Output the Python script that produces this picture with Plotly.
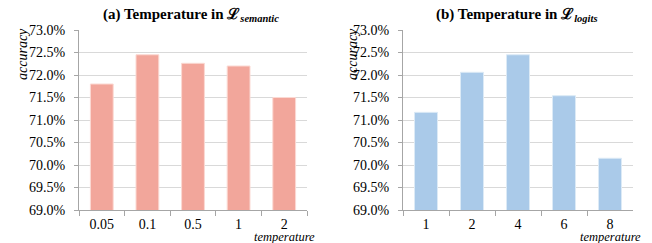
import plotly.graph_objects as go

cats_a = ["0.05", "0.1", "0.5", "1", "2"]
vals_a = [71.80, 72.45, 72.26, 72.20, 71.50]
cats_b = ["1", "2", "4", "6", "8"]
vals_b = [71.17, 72.06, 72.45, 71.54, 70.15]
yticks = [69.0, 69.5, 70.0, 70.5, 71.0, 71.5, 72.0, 72.5, 73.0]
ytick_text = [f"{v:.1f}%" for v in yticks]

W, H = 652, 243
font_family = "Liberation Serif"

fig = go.Figure()
fig.add_trace(go.Bar(x=cats_a, y=vals_a, xaxis="x", yaxis="y",
                     marker=dict(color="#F2A69B", line=dict(color="#FBD9D3", width=1)),
                     showlegend=False, hoverinfo="skip"))
fig.add_trace(go.Bar(x=cats_b, y=vals_b, xaxis="x2", yaxis="y2",
                     marker=dict(color="#AACAE9", line=dict(color="#DCEAF6", width=1)),
                     showlegend=False, hoverinfo="skip"))

def px_x(v):
    return v / W

def px_y(v):
    return 1 - v / H

axis_common = dict(showline=True, linecolor="#A6A6A6", linewidth=1,
                   ticks="outside", tickcolor="#A6A6A6", ticklen=5,
                   automargin=False,
                   tickfont=dict(family=font_family, size=14, color="#000"))
xaxis_common = dict(axis_common, type="category", showgrid=False,
                    tickson="boundaries", ticklabelstandoff=1)
yaxis_common = dict(axis_common, range=[69.0, 73.0], tickvals=yticks,
                    ticktext=ytick_text, showgrid=True, gridcolor="#D9D9D9",
                    gridwidth=1, ticklen=4, ticklabelstandoff=6, zeroline=False)

fig.update_layout(
    template="none",
    width=W, height=H,
    margin=dict(l=0, r=0, t=0, b=0, pad=0),
    paper_bgcolor="white", plot_bgcolor="white",
    bargap=0.5,
    font=dict(family=font_family, color="#000"),
    xaxis=dict(xaxis_common, domain=[px_x(79), px_x(307)], anchor="y"),
    yaxis=dict(yaxis_common, domain=[px_y(210), px_y(30)], anchor="x"),
    xaxis2=dict(xaxis_common, domain=[px_x(403), px_x(633)], anchor="y2"),
    yaxis2=dict(yaxis_common, domain=[px_y(210), px_y(30)], anchor="x2"),
)

annos = [
    dict(text="<b>(a) Temperature in ℒ<sub><i>semantic</i></sub></b>", x=px_x(191), y=px_y(15), size=15),
    dict(text="<b>(b) Temperature in ℒ<sub><i>logits</i></sub></b>", x=px_x(517), y=px_y(15), size=15),
    dict(text="<i>accuracy</i>", x=px_x(22), y=px_y(54), size=14, angle=-90),
    dict(text="<i>accuracy</i>", x=px_x(352), y=px_y(54), size=14, angle=-90),
    dict(text="<i>temperature</i>", x=px_x(284), y=px_y(237), size=12.5),
    dict(text="<i>temperature</i>", x=px_x(610), y=px_y(237), size=12.5),
]
for a in annos:
    fig.add_annotation(text=a["text"], x=a["x"], y=a["y"], xref="paper", yref="paper",
                       xanchor="center", yanchor="middle", showarrow=False,
                       textangle=a.get("angle", 0), borderpad=0,
                       font=dict(family=font_family, size=a["size"], color="#000"))

fig.write_html("out.html",
               config={"displayModeBar": False, "staticPlot": True},
               post_script="document.body.style.margin='0';document.body.style.overflow='hidden';")
